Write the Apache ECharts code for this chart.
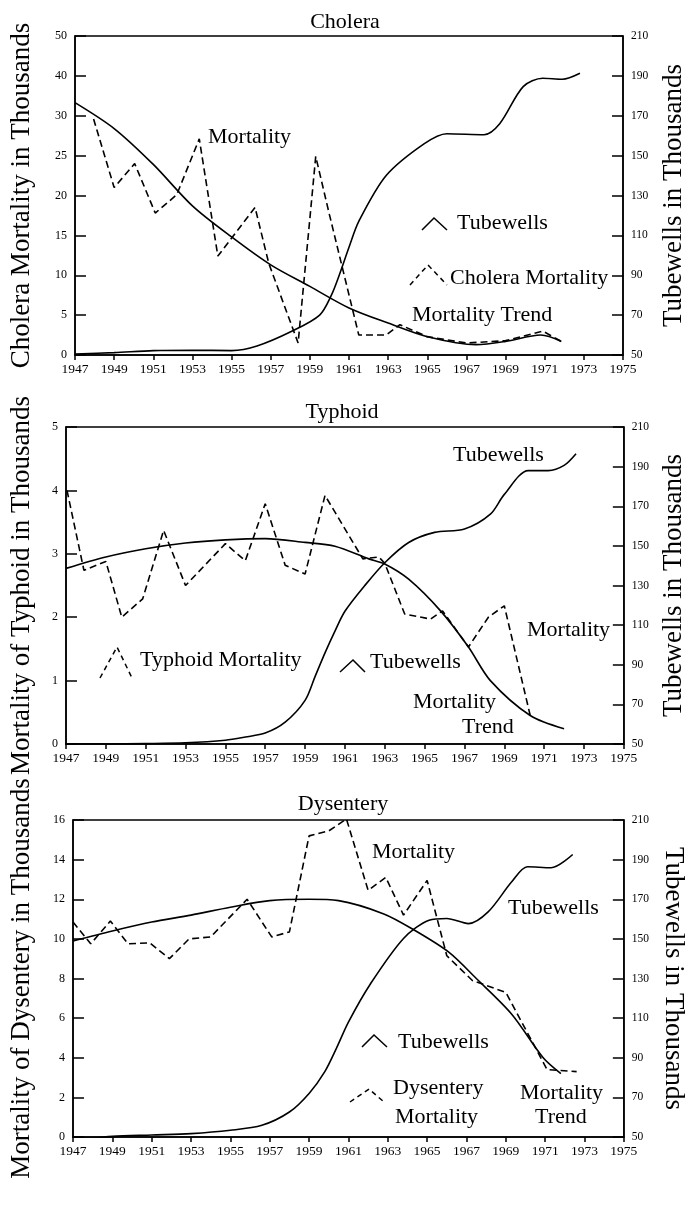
<!DOCTYPE html>
<html><head><meta charset="utf-8">
<script src="https://cdn.jsdelivr.net/npm/echarts@6/dist/echarts.min.js"></script>
<style>html,body{margin:0;padding:0;background:#fff}#c{width:695px;height:1206px}</style>
</head><body><div id="c"></div>
<script>
// ---------- tick labels ----------
const yearTicks = [1947,1949,1951,1953,1955,1957,1959,1961,1963,1965,1967,1969,1971,1973,1975];
const tubeTicks = [50,70,90,110,130,150,170,190,210];
const choleraTicks = [0,5,10,15,20,25,30,40,50];   // unevenly spaced scale in the original

// ---------- Cholera ----------
const choleraMortYears = [1947.95,1949.0,1950.05,1951.1,1952.2,1953.35,1954.3,1956.2,1956.9,1958.4,1959.3,1960.0,1961.5,1962.9,1963.6,1965.0,1967.0,1969.0,1970.9,1971.85];
const choleraMort      = [29.6,21.0,24.0,17.8,20.1,27.1,12.4,18.5,11.5,1.5,24.9,17.6,2.5,2.5,3.8,2.3,1.5,1.8,3.0,1.7];
const choleraTrendYears = [1947,1949,1951,1953,1955,1957,1959,1961,1963,1965,1967.5,1969,1970.8,1971.85];
const choleraTrend      = [33.3,28.4,23.9,18.7,14.8,11.3,8.6,5.9,4.0,2.3,1.3,1.7,2.5,1.7];
const choleraTubeYears = [1947,1949,1951,1953,1955,1956.3,1958.1,1959.5,1960.1,1960.5,1961,1961.5,1962.9,1964.85,1966,1967.9,1968.7,1969.9,1970.9,1971.9,1972.8];
const choleraTube      = [50.5,51.2,52.2,52.4,52.2,54.5,62,70,80,90,104,117,140,156,161,160.5,166,184.6,188.8,188.3,191.3];

// ---------- Typhoid ----------
const typhoidMortYears = [1947.05,1947.9,1949.0,1949.8,1950.85,1951.9,1953.0,1955.0,1956.0,1957.0,1958.0,1959.0,1960.0,1961.9,1962.7,1963.0,1964.0,1965.3,1965.9,1967.2,1968.2,1969.0,1970.3];
const typhoidMort      = [4.0,2.74,2.88,2.0,2.29,3.37,2.5,3.16,2.89,3.79,2.82,2.68,3.92,2.92,2.95,2.85,2.05,1.97,2.1,1.53,2.0,2.18,0.45];
const typhoidTrendYears = [1947,1949,1951,1953,1955,1957,1959,1960.5,1962.2,1963,1964.2,1965.8,1967.2,1968.3,1970.3,1972];
const typhoidTrend      = [2.77,2.95,3.08,3.17,3.22,3.24,3.18,3.12,2.92,2.84,2.6,2.1,1.53,1.0,0.45,0.24];
const typhoidTubeYears = [1947,1949,1951,1953,1955,1956,1957,1958,1959,1959.5,1960,1960.5,1961,1962,1963,1964.2,1965.5,1967,1968.3,1969,1970.2,1971.2,1972,1972.6];
const typhoidTube      = [50,50,50.2,50.6,51.9,53.5,55.5,61,72,84,96,107,117,130,141.5,151.7,156.8,158.5,166,176,188,188,190.6,196.5];

// ---------- Dysentery ----------
const dysMortYears = [1947,1947.9,1948.9,1949.8,1950.9,1951.9,1952.9,1954.0,1955.85,1957.1,1958.0,1959.0,1960.0,1960.9,1962.0,1962.9,1963.8,1965.0,1966.0,1967.3,1969.0,1971.1,1972.6];
const dysMort      = [10.85,9.75,10.9,9.75,9.8,9.0,10.0,10.1,12.0,10.1,10.35,15.2,15.45,16.05,12.45,13.1,11.2,12.95,9.15,7.9,7.3,3.4,3.3];
const dysTrendYears = [1947,1949,1951,1953,1955,1957,1959,1960.5,1962.8,1964.3,1966.1,1967.5,1969.3,1970.9,1971.8];
const dysTrend      = [9.9,10.4,10.85,11.2,11.6,11.93,12.0,11.93,11.26,10.47,9.33,8.0,6.2,4.0,3.2];
const dysTubeYears = [1947,1947.8,1949,1951,1953,1955,1956.6,1958,1959,1959.8,1960.4,1961,1962.1,1963.8,1965.1,1966,1967.1,1968.1,1969.3,1970.1,1971.3,1972.4];
const dysTube      = [50,49.3,50.3,51,51.7,53.4,55.9,62.6,72,83,95,108,127,150.2,159.4,160.3,157.7,163.6,178.8,186.4,185.9,192.6];

// ---------- helpers ----------
const FONT = '"Liberation Serif", "Times New Roman", serif';
// cholera left axis: ticks equally spaced at 0,5,...,30,40,50 -> piecewise-linear scale
function choleraScale(v){ return v <= 30 ? v/5 : 6 + (v-30)/10; }
function pairs(xs, ys, f){ return xs.map((x,i)=>[x, f ? f(ys[i]) : ys[i]]); }

const grids = [
  {left:73, right:68, top:36, height:319},
  {left:64, right:60, top:427, height:317},
  {left:72, right:55, top:820, height:317}
].map(g=>Object.assign({show:true, borderColor:'#000', borderWidth:1.5, backgroundColor:'transparent'}, g));

function xAxis(gi){
  return {type:'value', gridIndex:gi, min:1947, max:1975,
    axisLine:{show:true, onZero:false, lineStyle:{color:'#000', width:1.5}},
    axisTick:{show:true, inside:false, length:5, customValues:yearTicks, lineStyle:{color:'#000', width:1.5}},
    axisLabel:{customValues:yearTicks, color:'#000', fontFamily:FONT, fontSize:13.5, margin:7, formatter:v=>String(v)},
    splitLine:{show:false}};
}
function leftAxis(gi, min, max, interval, name, gap, fmt){
  return {type:'value', gridIndex:gi, position:'left', min, max, interval,
    name, nameLocation:'middle', nameRotate:90, nameGap:gap,
    nameTextStyle:{color:'#000', fontFamily:FONT, fontSize:27},
    axisLine:{show:true, onZero:false, lineStyle:{color:'#000', width:1.5}},
    axisTick:{show:true, inside:true, length:11, lineStyle:{color:'#000', width:1.5}},
    axisLabel:{color:'#000', fontFamily:FONT, fontSize:12, margin:8, formatter: fmt || (v=>String(v))},
    splitLine:{show:false}};
}
function rightAxis(gi, gap, rot){
  return {type:'value', gridIndex:gi, position:'right', min:50, max:210,
    name:'Tubewells in Thousands', nameLocation:'middle', nameRotate:rot, nameGap:gap,
    nameTextStyle:{color:'#000', fontFamily:FONT, fontSize:27},
    axisLine:{show:true, onZero:false, lineStyle:{color:'#000', width:1.5}},
    axisTick:{show:true, inside:true, length:11, customValues:tubeTicks, lineStyle:{color:'#000', width:1.5}},
    axisLabel:{customValues:tubeTicks, color:'#000', fontFamily:FONT, fontSize:11.5, margin:8, formatter:v=>String(v)},
    splitLine:{show:false}};
}
function line(xi, yi, data, kind){
  const dashed = kind === 'mort';
  return {type:'line', xAxisIndex:xi, yAxisIndex:yi, data, showSymbol:false, symbol:'none',
    smooth: dashed ? false : 0.3, silent:true, animation:false,
    lineStyle:{color:'#000', width:1.6, type: dashed ? [7,4] : 'solid'}};
}

const series = [
  line(0,1,pairs(choleraTubeYears, choleraTube),'tube'),
  line(0,0,pairs(choleraTrendYears, choleraTrend, choleraScale),'trend'),
  line(0,0,pairs(choleraMortYears, choleraMort, choleraScale),'mort'),
  line(1,3,pairs(typhoidTubeYears, typhoidTube),'tube'),
  line(1,2,pairs(typhoidTrendYears, typhoidTrend),'trend'),
  line(1,2,pairs(typhoidMortYears, typhoidMort),'mort'),
  line(2,5,pairs(dysTubeYears, dysTube),'tube'),
  line(2,4,pairs(dysTrendYears, dysTrend),'trend'),
  line(2,4,pairs(dysMortYears, dysMort),'mort')
];

// ---------- annotations ----------
const labels = [
  {t:'Cholera', x:345, y:22, a:'center'},
  {t:'Mortality', x:208, y:137},
  {t:'Tubewells', x:457, y:223},
  {t:'Cholera Mortality', x:450, y:278},
  {t:'Mortality Trend', x:412, y:315},
  {t:'Typhoid', x:342, y:412, a:'center'},
  {t:'Tubewells', x:453, y:455},
  {t:'Mortality', x:527, y:630},
  {t:'Tubewells', x:370, y:662},
  {t:'Mortality', x:413, y:702},
  {t:'Trend', x:462, y:727},
  {t:'Typhoid Mortality', x:140, y:660},
  {t:'Dysentery', x:343, y:804, a:'center'},
  {t:'Mortality', x:372, y:852},
  {t:'Tubewells', x:508, y:908},
  {t:'Tubewells', x:398, y:1042},
  {t:'Dysentery', x:393, y:1088},
  {t:'Mortality', x:395, y:1117},
  {t:'Mortality', x:520, y:1093},
  {t:'Trend', x:535, y:1117}
];
const glyphs = [
  {p:[[422,230],[434,218],[447,230]], d:false},
  {p:[[410,285],[428,265],[447,285]], d:true},
  {p:[[340,672],[353,660],[365,672]], d:false},
  {p:[[100,678],[117,647],[132,678]], d:true},
  {p:[[362,1047],[374,1035],[387,1047]], d:false},
  {p:[[350,1102],[369,1089],[384,1102]], d:true}
];
const graphic = labels.map(l=>({type:'text', silent:true,
  style:{text:l.t, x:l.x, y:l.y, fill:'#000', font:'22px ' + FONT, textAlign:l.a||'left', textVerticalAlign:'middle'}}))
 .concat(glyphs.map(g=>({type:'polyline', silent:true, shape:{points:g.p},
  style:{stroke:'#000', lineWidth:1.5, fill:null, lineDash: g.d ? [5,4] : null}})));

const chart = echarts.init(document.getElementById('c'), null, {renderer:'canvas'});
chart.setOption({
  animation:false,
  backgroundColor:'#fff',
  grid:grids,
  xAxis:[xAxis(0), xAxis(1), xAxis(2)],
  yAxis:[
    leftAxis(0, 0, 8, 1, 'Cholera Mortality in Thousands', 40, v=>String(choleraTicks[v])),
    rightAxis(0, 37, 90),
    leftAxis(1, 0, 5, 1, 'Mortality of Typhoid in Thousands', 31),
    rightAxis(1, 34, 90),
    leftAxis(2, 0, 16, 2, 'Mortality of Dysentery in Thousands', 38),
    rightAxis(2, 30, -90)
  ],
  series,
  graphic
});
</script>
</body></html>
